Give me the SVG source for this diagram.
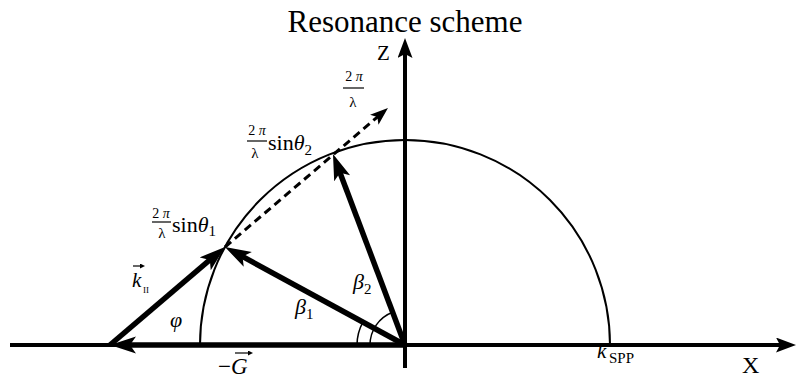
<svg xmlns="http://www.w3.org/2000/svg" width="797" height="380" viewBox="0 0 797 380" font-family="'Liberation Serif', 'Times New Roman', 'DejaVu Serif', serif">
<style>
  text { font-family: "Liberation Serif", "Times New Roman", "DejaVu Serif", serif; fill: #000; }
  .it { font-style: italic; }
  .axis { stroke: #000; stroke-width: 4; fill: none; }
  .vec { stroke: #000; stroke-width: 5.5; fill: none; }
  .dash { stroke: #000; stroke-width: 3; stroke-dasharray: 8 5; fill: none; }
  .thin { stroke: #000; stroke-width: 2; fill: none; }
  .ang { stroke: #000; stroke-width: 1.5; fill: none; }
  .bar { stroke: #000; stroke-width: 1.2; }
  .ov { stroke: #000; stroke-width: 1.2; fill: none; }
</style>
<defs>
  <marker id="head" markerUnits="userSpaceOnUse" markerWidth="28" markerHeight="18" refX="14" refY="8.5" orient="auto">
    <path d="M0,0 L26,8.5 L0,17 L6,8.5 Z" fill="#000"/>
  </marker>
  <marker id="dhead" markerUnits="userSpaceOnUse" markerWidth="20" markerHeight="14" refX="12" refY="6.5" orient="auto">
    <path d="M0,0 L18,6.5 L0,13 L4,6.5 Z" fill="#000"/>
  </marker>
  <marker id="axhead" markerUnits="userSpaceOnUse" markerWidth="22" markerHeight="16" refX="11" refY="7.5" orient="auto">
    <path d="M0,0 L20,7.5 L0,15 L4,7.5 Z" fill="#000"/>
  </marker>
  <marker id="ovhead" markerUnits="userSpaceOnUse" markerWidth="6" markerHeight="6" refX="1" refY="2.5" orient="auto">
    <path d="M0,0 L5,2.5 L0,5 Z" fill="#000"/>
  </marker>
</defs>

<text id="title" x="405" y="32" font-size="31" text-anchor="middle">Resonance scheme</text>

<g id="axes">
  <path class="axis" d="M10,345 L787,345" marker-end="url(#axhead)"/>
  <path class="axis" d="M405,368 L405,47" marker-end="url(#axhead)"/>
  <text x="377" y="60" font-size="21">Z</text>
  <text x="742" y="373" font-size="24">X</text>
</g>

<g id="circle">
  <path class="thin" d="M200,345 A205,205 0 0 1 610,345"/>
</g>

<g id="connectors">
  <path id="G-vector" class="vec" d="M405,345 L122,345" marker-end="url(#head)"/>
  <path id="k-vector" class="vec" d="M110,345 L215.9,254.7" marker-end="url(#head)"/>
  <path id="beta1-vector" class="vec" d="M405,345 L235.5,252.7" marker-end="url(#head)"/>
  <path id="beta2-vector" class="vec" d="M405,345 L337.2,165.2" marker-end="url(#head)"/>
  <path id="light-line" class="dash" d="M225,247 L383.4,111.9" marker-end="url(#dhead)"/>
  <path id="beta1-angle" class="ang" d="M357,345 A48,48 0 0 1 362.9,322.1"/>
  <path id="beta2-angle" class="ang" d="M370,345 A35,35 0 0 1 392.6,312.2"/>
</g>

<g id="label-sin1">
  <text x="161" y="218" font-size="14" text-anchor="middle">2 <tspan class="it">π</tspan></text>
  <line class="bar" x1="152" y1="222" x2="171" y2="222"/>
  <text x="162" y="238" font-size="15" text-anchor="middle">λ</text>
  <text x="172" y="232" font-size="22">sin<tspan class="it">θ</tspan><tspan font-size="15" dy="4">1</tspan></text>
</g>

<g id="label-sin2">
  <text x="257" y="135" font-size="14" text-anchor="middle">2 <tspan class="it">π</tspan></text>
  <line class="bar" x1="247" y1="141" x2="267" y2="141"/>
  <text x="255" y="158" font-size="15" text-anchor="middle">λ</text>
  <text x="268" y="150" font-size="22">sin<tspan class="it">θ</tspan><tspan font-size="15" dy="5">2</tspan></text>
</g>

<g id="label-2pi">
  <text x="354" y="81" font-size="14" text-anchor="middle">2 <tspan class="it">π</tspan></text>
  <line class="bar" x1="343" y1="88" x2="364" y2="88"/>
  <text x="353" y="107" font-size="15" text-anchor="middle">λ</text>
</g>

<g id="label-k">
  <path class="ov" d="M133,266 L141,266" marker-end="url(#ovhead)"/>
  <text x="132" y="287" font-size="21" class="it">k</text>
  <text x="143" y="293" font-size="9">II</text>
</g>

<g id="label-phi">
  <text x="170" y="327" font-size="22" class="it">φ</text>
</g>

<g id="label-beta1">
  <text x="295" y="314" font-size="22"><tspan class="it">β</tspan><tspan font-size="15" dy="5">1</tspan></text>
</g>

<g id="label-beta2">
  <text x="353" y="289" font-size="22"><tspan class="it">β</tspan><tspan font-size="15" dy="5">2</tspan></text>
</g>

<g id="label-G">
  <path class="ov" d="M235,353 L249,353" marker-end="url(#ovhead)"/>
  <text x="218" y="374" font-size="23">−<tspan class="it">G</tspan></text>
</g>

<g id="label-kspp">
  <text x="597" y="358" font-size="21" class="it">k</text>
  <text x="609" y="363" font-size="15">SPP</text>
</g>
</svg>
